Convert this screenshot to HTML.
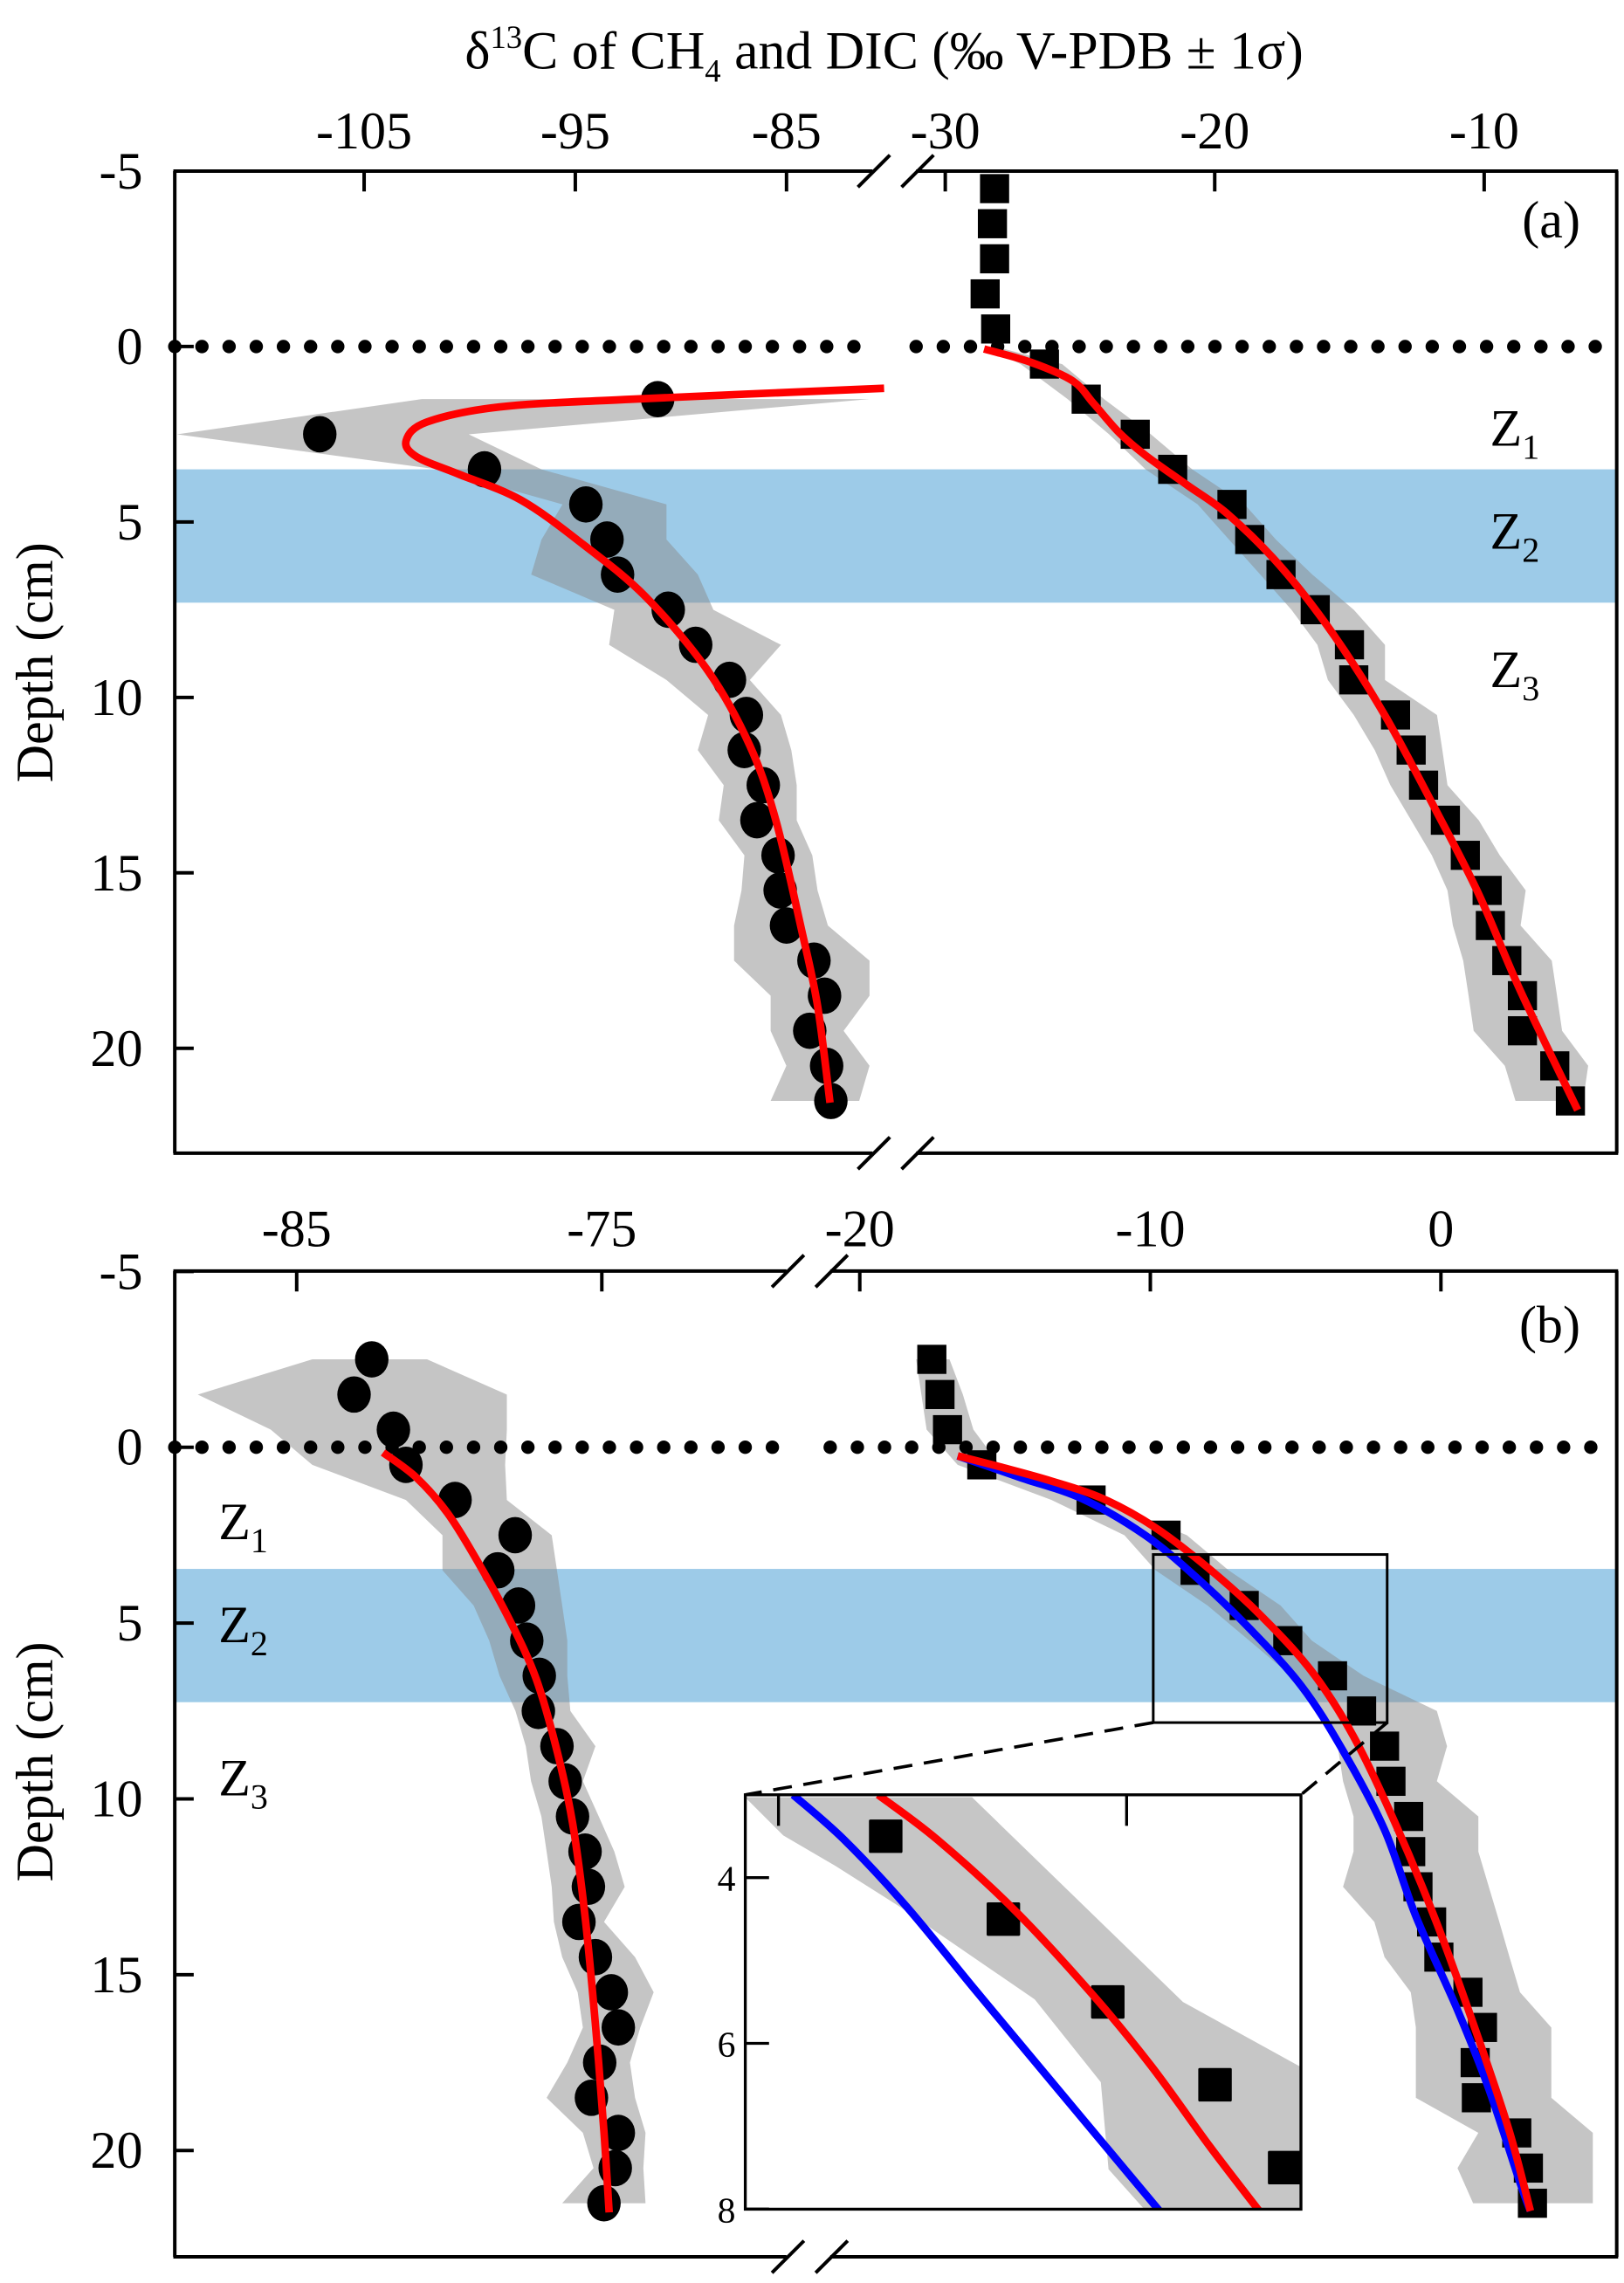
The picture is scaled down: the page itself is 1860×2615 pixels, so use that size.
<!DOCTYPE html>
<html><head><meta charset="utf-8">
<style>
html,body{margin:0;padding:0;background:#fff;}
svg{display:block;}
text{font-family:"Liberation Serif",serif;fill:#000;}
</style></head>
<body>
<svg id="chart" xmlns="http://www.w3.org/2000/svg" width="1860" height="2615" viewBox="0 0 1115 1568" preserveAspectRatio="none">
<defs>
<clipPath id="clipA"><rect x="120" y="117.5" width="990" height="674.5"/></clipPath>
<clipPath id="clipB"><rect x="120" y="873" width="990" height="677"/></clipPath>
<clipPath id="clipIn"><rect x="511.7" y="1232.7" width="381.5" height="284.6"/></clipPath>
</defs>
<text x="607" y="47" font-size="37" text-anchor="middle">δ<tspan font-size="22" dy="-14">13</tspan><tspan dy="14">C of CH</tspan><tspan font-size="22" dy="9">4</tspan><tspan dy="-9"> and DIC (‰ V-PDB  ± 1σ)</tspan></text>
<g id="layer"></g>
</svg>
<script>
// ---------------- DATA ----------------
const depthsA = [1.5,2.5,3.5,4.5,5.5,6.5,7.5,8.5,9.5,10.5,11.5,12.5,13.5,14.5,15.5,16.5,17.5,18.5,19.5,20.5,21.5];
const ch4A = [-91.1,-107.1,-99.3,-94.5,-93.5,-93.0,-90.6,-89.3,-87.7,-86.9,-87.0,-86.1,-86.4,-85.4,-85.3,-85.0,-83.7,-83.2,-83.9,-83.1,-82.9];
const ch4ABandLo = [-102.27,-113.86,-101.53,-95.61,-96.6,-97.09,-93.15,-93.4,-90.68,-88.71,-89.2,-87.97,-88.21,-86.99,-87.13,-87.48,-87.48,-85.75,-85.75,-85.01,-85.75];
const ch4ABandHi = [-81.07,-100.05,-96.6,-90.68,-90.68,-89.2,-88.46,-85.26,-86.74,-85.26,-84.77,-84.52,-84.52,-83.78,-83.53,-83.04,-81.07,-81.07,-82.30,-81.07,-81.56];
const ch4AFitD = [1.19,1.51,1.72,2.15,2.68,3.14,3.63,4.37,5.64,7.13,9.25,11.37,13.49,16.67,18.79,21.55];
const ch4AFitV = [-80.38,-92.66,-98.57,-102.02,-103.01,-102.52,-100.55,-97.59,-94.63,-91.67,-88.71,-86.74,-85.51,-84.27,-83.53,-82.94];

const dicADepths = [-4.5,-3.5,-2.5,-1.5,-0.5,0.5,1.5,2.5,3.5,4.5,5.5,6.5,7.5,8.5,9.5,10.5,11.5,12.5,13.5,14.5,15.5,16.5,17.5,18.5,19.5,20.5,21.5];
const dicA = [-28.17,-28.25,-28.17,-28.52,-28.13,-26.32,-24.77,-22.95,-21.56,-19.36,-18.70,-17.54,-16.27,-15.0,-14.84,-13.29,-12.71,-12.25,-11.44,-10.70,-9.89,-9.77,-9.16,-8.58,-8.58,-7.38,-6.80];
const dicABandD = [0,0.5,1.5,2.5,3.5,4.5,5.5,6.5,7.5,8.5,9.5,10.5,11.5,12.5,13.5,14.5,15.5,16.5,17.5,18.5,19.5,20.5,21.5];
const dicABandLo = [-28.56,-27.20,-25.46,-23.92,-22.57,-20.63,-19.47,-18.31,-17.15,-16.19,-15.80,-14.84,-14.06,-13.48,-12.71,-11.94,-11.36,-11.16,-10.78,-10.58,-10.39,-9.23,-8.84];
const dicABandHi = [-28.17,-25.66,-24.11,-22.37,-20.83,-18.89,-17.73,-16.38,-14.84,-13.68,-13.68,-11.75,-11.55,-11.36,-10.20,-9.42,-8.46,-8.65,-7.49,-7.30,-7.11,-6.14,-6.33];
const dicAFitD = [0.07,0.45,0.98,1.62,2.46,3.1,3.95,4.8,6.28,8.19,10.52,13.28,15.61,18.37,21.76];
const dicAFitV = [-28.56,-26.82,-25.27,-24.5,-23.54,-22.57,-21.02,-19.48,-17.54,-15.61,-13.68,-11.75,-10.2,-8.65,-6.53];

const depthsB = [-2.5,-1.5,-0.5,0.5,1.5,2.5,3.5,4.5,5.5,6.5,7.5,8.5,9.5,10.5,11.5,12.5,13.5,14.5,15.5,16.5,17.5,18.5,19.5,20.5,21.5];
const ch4B = [-82.54,-83.12,-81.83,-81.42,-79.81,-77.84,-78.41,-77.73,-77.46,-77.05,-77.08,-76.47,-76.2,-75.96,-75.55,-75.44,-75.75,-75.21,-74.69,-74.46,-75.07,-75.34,-74.46,-74.56,-74.93];
const ch4BBandLo = [-84.49,-88.24,-85.85,-84.49,-81.42,-80.22,-80.22,-79.20,-78.69,-78.35,-77.83,-77.49,-77.32,-76.98,-76.81,-76.64,-76.57,-76.30,-75.79,-75.62,-76.13,-76.81,-75.62,-75.27,-76.30];
const ch4BBandHi = [-80.73,-78.11,-78.11,-78.17,-78.11,-76.64,-76.47,-76.30,-76.13,-76.13,-76.03,-75.21,-75.62,-75.10,-74.59,-74.25,-74.93,-73.91,-73.30,-73.74,-74.08,-73.91,-73.57,-73.64,-73.57];
const ch4BFitD = [0.15,0.86,1.88,3.31,4.95,6.59,8.63,10.68,13.34,16.41,19.47,21.76];
const ch4BFitV = [-82.17,-81.08,-80.05,-79.03,-78.0,-77.15,-76.47,-75.96,-75.55,-75.21,-74.93,-74.76];

const dicB = [-17.52,-17.24,-16.98,-15.80,-12.04,-9.46,-8.46,-6.77,-5.27,-3.73,-2.73,-1.94,-1.72,-1.11,-1.04,-0.79,-0.32,-0.07,0.93,1.43,1.18,1.22,2.61,3.01,3.15];
const dicBBandLo = [-18.06,-17.88,-17.70,-16.63,-13.40,-10.89,-9.82,-8.03,-6.59,-5.16,-4.09,-3.55,-3.37,-3.01,-3.01,-3.37,-2.29,-1.94,-1.04,-0.86,-0.86,-0.86,1.29,0.57,1.11];
const dicBBandHi = [-16.91,-16.45,-16.09,-15.19,-11.61,-8.74,-7.31,-5.52,-4.44,-2.66,-0.14,0.21,-0.14,1.29,1.29,1.65,2.01,2.36,2.72,3.80,3.80,3.80,5.23,5.23,5.23];
const dicBRedD = [0.246,0.552,0.962,1.47,2.29,3.42,4.75,6.38,8.22,10.68,13.54,16.81,19.47,21.72];
const dicBRedV = [-16.63,-15.19,-13.40,-11.61,-9.82,-8.03,-6.24,-4.44,-3.01,-1.58,-0.14,1.29,2.36,3.08];
const dicBBlueD = [0.246,0.86,1.47,2.50,3.72,5.15,6.79,8.63,10.88,13.34,16.0,18.25,20.91,21.72];
const dicBBlueV = [-16.63,-14.48,-12.33,-10.18,-8.39,-6.59,-4.80,-3.37,-1.94,-0.86,0.57,1.65,2.72,3.08];

const insetBandLoD = [3.03,3.49,3.86,4.34,5.47,6.47,7.52,8.0];
const insetBandLoV = [-10.48,-9.93,-9.18,-8.28,-6.32,-5.37,-5.26,-4.75];
const insetBandHiD = [3.03,5.50,6.28,8.0];
const insetBandHiV = [-7.22,-4.19,-2.51,-2.51];
const insetRedD = [3.0,3.54,4.40,5.42,6.28,7.25,8.05];
const insetRedV = [-8.57,-7.72,-6.60,-5.48,-4.64,-3.80,-3.07];
const insetBlueD = [3.0,3.54,4.34,5.37,6.50,8.05];
const insetBlueV = [-9.79,-9.06,-8.17,-7.16,-6.04,-4.50];

const depthTicks = [-5,0,5,10,15,20];
const ticksALeft = [-105,-95,-85];
const ticksARight = [-30,-20,-10];
const ticksBLeft = [-85,-75];
const ticksBRight = [-20,-10,0];
const insetXTicks = [-10,-5];
const insetYTicks = [4,6,8];

// ---------------- SCALES ----------------
const yA = d => 238 + d*24.1;
const xAL = v => 250 + (v+105)*14.5;
const xAR = v => 649 + (v+30)*18.5;
const yB = d => 994 + d*24.15;
const xBL = v => 203.7 + (v+85)*20.95;
const xBR = v => 989.3 + v*19.95;
const xIn = v => 534.5 + (v+10)*47.8;
const yIn = d => 1232.7 + (d-3)*56.9;

const LW = 5.2;
const NS = 'http://www.w3.org/2000/svg';
const layer = document.getElementById('layer');
function mk(tag, attrs, parent){
  const e = document.createElementNS(NS, tag);
  for (const k in attrs) e.setAttribute(k, attrs[k]);
  (parent||layer).appendChild(e);
  return e;
}
function smooth(pts){
  let d = 'M'+pts[0][0].toFixed(2)+','+pts[0][1].toFixed(2);
  for (let i=0;i<pts.length-1;i++){
    const p0=pts[i-1]||pts[i], p1=pts[i], p2=pts[i+1], p3=pts[i+2]||p2;
    const c1=[p1[0]+(p2[0]-p0[0])/6, p1[1]+(p2[1]-p0[1])/6];
    const c2=[p2[0]-(p3[0]-p1[0])/6, p2[1]-(p3[1]-p1[1])/6];
    d+=' C'+c1.map(n=>n.toFixed(2)).join(',')+' '+c2.map(n=>n.toFixed(2)).join(',')+' '+p2[0].toFixed(2)+','+p2[1].toFixed(2);
  }
  return d;
}
function bandPoly(ds, lo, hi, xs, ys){
  const a=[]; for(let i=0;i<ds.length;i++) a.push(xs(lo[i]).toFixed(1)+','+ys(ds[i]).toFixed(1));
  for(let i=ds.length-1;i>=0;i--) a.push(xs(hi[i]).toFixed(1)+','+ys(ds[i]).toFixed(1));
  return a.join(' ');
}
function txt(s, x, y, size, anchor, parent){
  const t = mk('text', {x:x, y:y, 'font-size':size, 'text-anchor':anchor||'middle'}, parent);
  t.textContent = s; return t;
}

// ---------- PANEL A ----------
const gA = mk('g', {});


const blueA = mk('rect', {x:120, y:yA(3.5), width:990, height:yA(7.3)-yA(3.5), fill:'#9dcbe8'}, gA);


const gAc = mk('g', {'clip-path':'url(#clipA)'}, gA);
const bA1 = mk('polygon', {points:bandPoly(depthsA, ch4ABandLo, ch4ABandHi, xAL, yA), fill:'#8c8c8c', 'fill-opacity':0.5}, gAc);


const bA2 = mk('polygon', {points:bandPoly(dicABandD, dicABandLo, dicABandHi, xAR, yA), fill:'#8c8c8c', 'fill-opacity':0.5}, gAc);


for (let x=120; x<=590; x+=18.65){ const c=mk('circle',{cx:x,cy:yA(0),r:4.6,fill:'#000'},gA);
  
   }
for (let x=629; x<=1100; x+=18.65){ const c=mk('circle',{cx:x,cy:yA(0),r:4.6,fill:'#000'},gA);
  
   }
depthsA.forEach((d,i)=>{ const c=mk('ellipse',{cx:xAL(ch4A[i]),cy:yA(d),rx:11.5,ry:12.5,fill:'#000'},gAc);
  
   });
dicADepths.forEach((d,i)=>{ const r=mk('rect',{x:xAR(dicA[i])-10,y:yA(d)-10,width:20,height:20,fill:'#000'},gAc);
  
   });
const fA1 = mk('path',{d:smooth(ch4AFitD.map((d,i)=>[xAL(ch4AFitV[i]),yA(d)])),fill:'none',stroke:'#ff0000','stroke-width':LW},gA);


const fA2 = mk('path',{d:smooth(dicAFitD.map((d,i)=>[xAR(dicAFitV[i]),yA(d)])),fill:'none',stroke:'#ff0000','stroke-width':LW},gA);



// ---------- PANEL B ----------
const gB = mk('g', {});


const blueB = mk('rect', {x:120, y:yB(3.46), width:990, height:yB(7.25)-yB(3.46), fill:'#9dcbe8'}, gB);


const gBc = mk('g', {'clip-path':'url(#clipB)'}, gB);
const bB1 = mk('polygon', {points:bandPoly(depthsB, ch4BBandLo, ch4BBandHi, xBL, yB), fill:'#8c8c8c', 'fill-opacity':0.5}, gBc);


const bB2 = mk('polygon', {points:bandPoly(depthsB, dicBBandLo, dicBBandHi, xBR, yB), fill:'#8c8c8c', 'fill-opacity':0.5}, gBc);


for (let x=120; x<=532; x+=18.65){ const c=mk('circle',{cx:x,cy:yB(0),r:4.6,fill:'#000'},gB);
  
   }
for (let x=570; x<=1100; x+=18.65){ const c=mk('circle',{cx:x,cy:yB(0),r:4.6,fill:'#000'},gB);
  
   }
depthsB.forEach((d,i)=>{ const c=mk('ellipse',{cx:xBL(ch4B[i]),cy:yB(d),rx:11.5,ry:12.5,fill:'#000'},gBc);
  
   });
depthsB.forEach((d,i)=>{ const r=mk('rect',{x:xBR(dicB[i])-10,y:yB(d)-10,width:20,height:20,fill:'#000'},gBc);
  
   });
const fB1 = mk('path',{d:smooth(ch4BFitD.map((d,i)=>[xBL(ch4BFitV[i]),yB(d)])),fill:'none',stroke:'#ff0000','stroke-width':LW},gB);


const fB3 = mk('path',{d:smooth(dicBBlueD.map((d,i)=>[xBR(dicBBlueV[i]),yB(d)])),fill:'none',stroke:'#0000ff','stroke-width':LW},gB);


const fB2 = mk('path',{d:smooth(dicBRedD.map((d,i)=>[xBR(dicBRedV[i]),yB(d)])),fill:'none',stroke:'#ff0000','stroke-width':LW},gB);



const zr = mk('rect',{x:xBR(-9.9),y:yB(3.05),width:xBR(-1.85)-xBR(-9.9),height:yB(7.83)-yB(3.05),fill:'none',stroke:'#000','stroke-width':1.8},gB);


const dl1 = mk('line',{x1:xBR(-9.9),y1:yB(7.83),x2:511.7,y2:1232.7,stroke:'#000','stroke-width':2.2,'stroke-dasharray':'13,8'},gB);


const dl2 = mk('line',{x1:xBR(-1.85),y1:yB(7.83),x2:893.2,y2:1232.7,stroke:'#000','stroke-width':2.2,'stroke-dasharray':'13,8'},gB);



// inset
const gI = mk('g',{},gB);


const ibg = mk('rect',{x:511.7,y:1232.7,width:381.5,height:284.6,fill:'#fff'},gI);


const gIc = mk('g',{'clip-path':'url(#clipIn)'},gI);
(function(){
  const a=[]; insetBandLoD.forEach((d,i)=>a.push(xIn(insetBandLoV[i]).toFixed(1)+','+yIn(d).toFixed(1)));
  for(let i=insetBandHiD.length-1;i>=0;i--) a.push(xIn(insetBandHiV[i]).toFixed(1)+','+yIn(insetBandHiD[i]).toFixed(1));
  const p = mk('polygon',{points:a.join(' '),fill:'#c6c6c6'},gIc);
  
  
})();
depthsB.forEach((d,i)=>{ if(d<3||d>8) return; const r=mk('rect',{x:xIn(dicB[i])-11.5,y:yIn(d)-11.5,width:23,height:23,fill:'#000',rx:1},gIc);
  
   });
const iB = mk('path',{d:smooth(insetBlueD.map((d,i)=>[xIn(insetBlueV[i]),yIn(d)])),fill:'none',stroke:'#0000ff','stroke-width':LW},gIc);


const iR = mk('path',{d:smooth(insetRedD.map((d,i)=>[xIn(insetRedV[i]),yIn(d)])),fill:'none',stroke:'#ff0000','stroke-width':LW},gIc);


const iFrame = mk('rect',{x:511.7,y:1232.7,width:381.5,height:284.6,fill:'none',stroke:'#000','stroke-width':2},gI);


insetXTicks.forEach(v=>{ const l=mk('line',{x1:xIn(v),x2:xIn(v),y1:1232.7,y2:1254,stroke:'#000','stroke-width':2},gI);
  
   });
insetYTicks.forEach(v=>{ const l=mk('line',{x1:511.7,x2:528,y1:yIn(v),y2:yIn(v),stroke:'#000','stroke-width':2},gI);
  
  
  const t=txt(String(v),505,yIn(v)+9,25,'end',gI);
  
   });

// ---------- AXES ----------
function frame(top, bottom, brk, yfn, g, name){
  const f = mk('g',{},g);
  
  
  const s = {stroke:'#000','stroke-width':2.4,fill:'none'};
  mk('line',Object.assign({x1:120,y1:top,x2:120,y2:bottom},s),f);
  mk('line',Object.assign({x1:1110,y1:top,x2:1110,y2:bottom},s),f);
  mk('line',Object.assign({x1:119,y1:top,x2:brk-14,y2:top},s),f);
  mk('line',Object.assign({x1:brk+16,y1:top,x2:1111,y2:top},s),f);
  mk('line',Object.assign({x1:119,y1:bottom,x2:brk-14,y2:bottom},s),f);
  mk('line',Object.assign({x1:brk+16,y1:bottom,x2:1111,y2:bottom},s),f);
  [top,bottom].forEach(yy=>{
    const b1=mk('line',Object.assign({x1:brk-24,y1:yy+11,x2:brk-2,y2:yy-11},s),f);
    
    
    const b2=mk('line',Object.assign({x1:brk+6,y1:yy+11,x2:brk+28,y2:yy-11},s),f);
    
    
  });
  depthTicks.forEach(d=>{
    const l=mk('line',Object.assign({x1:120,y1:yfn(d),x2:133,y2:yfn(d)},s),f);
    
    
    const t=txt(String(d),98,yfn(d)+12,36,'end',f);
    
    
  });
  return f;
}
const fa = frame(117.5, 792, 613, yA, gA, 'panel-a-axes');
const fb = frame(873, 1550, 554, yB, gB, 'panel-b-axes');
function xticks(vals, xs, top, ly, f){
  vals.forEach(v=>{
    const l=mk('line',{x1:xs(v),x2:xs(v),y1:top,y2:top+14,stroke:'#000','stroke-width':2.4},f);
    
    
    const t=txt(String(v),xs(v),ly,36,'middle',f);
    
    
  });
}
xticks(ticksALeft, xAL, 117.5, 102, fa);
xticks(ticksARight, xAR, 117.5, 102, fa);
xticks(ticksBLeft, xBL, 873, 856, fb);
xticks(ticksBRight, xBR, 873, 856, fb);

function zlab(n, x, y, g){
  const t = mk('text',{x:x,y:y,'font-size':36},g);
  
  
  t.innerHTML = 'Z<tspan font-size="24" dy="9">'+n+'</tspan>';
}
zlab(1,1023,306,gA); zlab(2,1023,377,gA); zlab(3,1023,472,gA);
zlab(1,150,1057,gB); zlab(2,150,1128,gB); zlab(3,150,1233,gB);
const pa=txt('(a)',1085,163,36,'end',gA);


const pb=txt('(b)',1085,922,36,'end',gB);


const ya=mk('text',{x:0,y:0,'font-size':36,'text-anchor':'middle',transform:'translate(36,455) rotate(-90)'},gA);
ya.textContent='Depth (cm)';


const yb=mk('text',{x:0,y:0,'font-size':36,'text-anchor':'middle',transform:'translate(36,1210) rotate(-90)'},gB);
yb.textContent='Depth (cm)';


</script>
</body></html>
